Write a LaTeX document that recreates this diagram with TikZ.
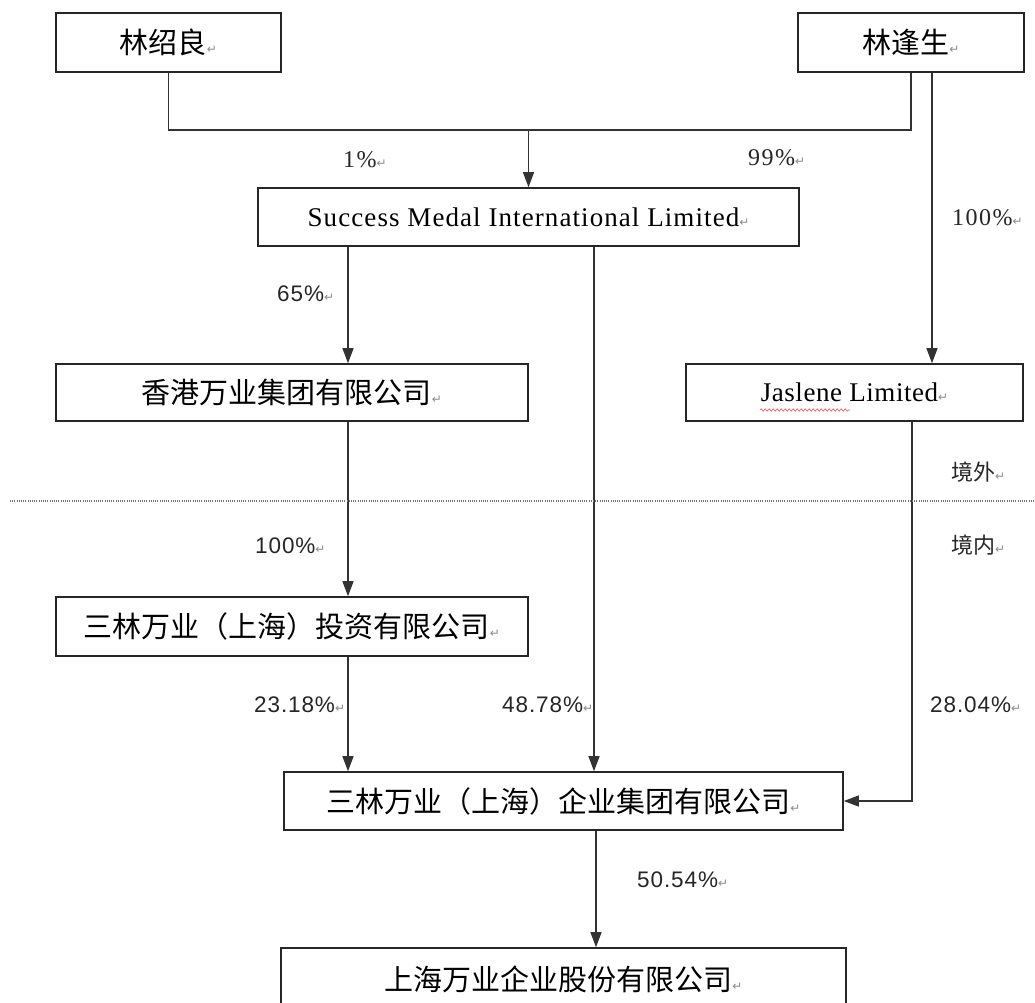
\documentclass[tikz,border=0pt]{standalone}
\usepackage{fontspec}
\setmainfont{Liberation Serif}
\newfontfamily\cjk{Noto Sans CJK SC}
\newfontfamily\lsans{Liberation Sans}
\newfontfamily\arrfont{DejaVu Sans}
\usetikzlibrary{arrows.meta,decorations.pathmorphing}
\newcommand{\pmark}{{\arrfont\fontsize{12}{12}\selectfont\textcolor{black!45}{↵}}}
\tikzset{
  box/.style={draw=black!85, line width=1.6pt, rectangle, inner sep=0pt, minimum height=58pt},
  cjkbox/.style={box, font=\cjk\fontsize{29}{29}\selectfont},
  enbox/.style={box, font=\fontsize{27}{27}\selectfont},
  conn/.style={draw=black!80, line width=1.2pt},
  arr/.style={conn, -{Triangle[length=15pt,width=11pt]}},
  pct/.style={inner sep=0pt, anchor=west, text=black!85, font=\lsans\fontsize{22.5}{22.5}\selectfont\addfontfeatures{LetterSpace=4}},
  pcts/.style={inner sep=0pt, anchor=west, text=black!85, font=\fontsize{24}{24}\selectfont\addfontfeatures{LetterSpace=6}},
  zone/.style={inner sep=0pt, anchor=west, text=black!85, font=\cjk\fontsize{22}{22}\selectfont}
}
\begin{document}
\begin{tikzpicture}[x=1pt,y=-1pt]
\useasboundingbox (0,0) rectangle (1035,1002);
\fill[white] (0,0) rectangle (1035,1002);

% boxes
\node[cjkbox, minimum width=225pt, minimum height=59pt] (ls) at (168.5,42.5) {林绍良\pmark};
\node[cjkbox, minimum width=226pt, minimum height=59pt] (lf) at (911,42.5) {林逢生\pmark};
\node[enbox, minimum width=541pt] (sml) at (528.5,217) {\addfontfeatures{LetterSpace=4}Success Medal International Limited\pmark};
\node[cjkbox, minimum width=472pt, minimum height=57pt] (hk) at (292,392.5) {香港万业集团有限公司\pmark};
\node[enbox, minimum width=337pt, minimum height=57pt] (jas) at (854.5,392.5) {\addfontfeatures{LetterSpace=2}Jaslene Limited\pmark};
\node[cjkbox, minimum width=472pt, minimum height=59pt] (tz) at (292,626.5) {三林万业（上海）投资有限公司\pmark};
\node[cjkbox, minimum width=559pt] (jt) at (563.5,801) {三林万业（上海）企业集团有限公司\pmark};
\node[cjkbox, minimum width=565pt, minimum height=62pt] (gf) at (563.5,979) {上海万业企业股份有限公司\pmark};

% spell-check underline
\draw[red!70, line width=0.6pt, decorate, decoration={snake, amplitude=1.2pt, segment length=4pt}] (760,410) -- (850,410);

% helper x positions
\coordinate (xa) at (348,0);
\coordinate (xb) at (594,0);
\coordinate (xc) at (912,0);
\coordinate (xd) at (932,0);
\coordinate (xe) at (596,0);
\coordinate (j) at (528.5,130);

% connectors
\draw[conn] (ls.south) |- (j) -| (lf.south);
\draw[arr] (j) -- (sml.north);
\draw[arr] (xd |- lf.south) -- (xd |- jas.north);
\draw[arr] (xa |- sml.south) -- (xa |- hk.north);
\draw[arr] (xb |- sml.south) -- (xb |- jt.north);
\draw[arr] (xa |- hk.south) -- (xa |- tz.north);
\draw[arr] (xa |- tz.south) -- (xa |- jt.north);
\draw[arr] (xc |- jas.south) |- (jt.east);
\draw[arr] (xe |- jt.south) -- (xe |- gf.north);

% boundary
\draw[black!55, line width=1.2pt, dash pattern=on 1pt off 1.2pt] (10,501) -- (1035,501);
\node[zone] (zw) at (951,472) {境外\pmark};
\node[zone] (zn) at (951,545) {境内\pmark};

% percentages
\node[pcts] (p1) at (343,160) {1\%\pmark};
\node[pcts] (p99) at (748,158) {99\%\pmark};
\node[pcts] (p100a) at (952,218) {100\%\pmark};
\node[pct] (p65) at (277,294) {65\%\pmark};
\node[pct] (p100b) at (255,546) {100\%\pmark};
\node[pct] (p2318) at (254,705) {23.18\%\pmark};
\node[pct] (p4878) at (502,705) {48.78\%\pmark};
\node[pct] (p2804) at (930,705) {28.04\%\pmark};
\node[pct] (p5054) at (637,880) {50.54\%\pmark};
\end{tikzpicture}
\end{document}
